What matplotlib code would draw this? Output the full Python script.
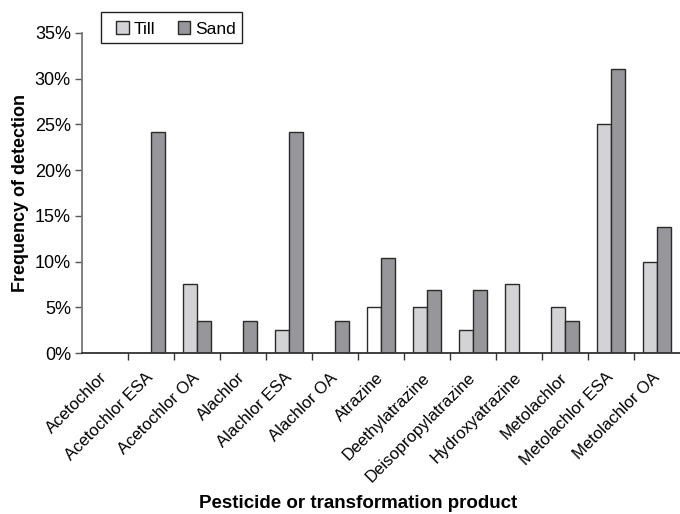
import numpy as np
import matplotlib.pyplot as plt
from matplotlib.patches import Rectangle
from matplotlib.ticker import FuncFormatter, FixedLocator

plt.rcParams['font.family'] = ['Liberation Sans', 'DejaVu Sans']

categories = ['Acetochlor', 'Acetochlor ESA', 'Acetochlor OA', 'Alachlor',
              'Alachlor ESA', 'Alachlor OA', 'Atrazine', 'Deethylatrazine',
              'Deisopropylatrazine', 'Hydroxyatrazine', 'Metolachlor',
              'Metolachlor ESA', 'Metolachlor OA']
till = [0, 0, 7.5, 0, 2.5, 0, 5.0, 5.0, 2.5, 7.5, 5.0, 25.0, 10.0]
sand = [0, 24.14, 3.45, 3.45, 24.14, 3.45, 10.34, 6.9, 6.9, 0, 3.45, 31.03, 13.79]

till_color = '#d3d3d5'
sand_color = '#97979b'
edge = '#2a2a2a'

fig = plt.figure(figsize=(6.8, 5.14), dpi=100)
ax = fig.add_axes([0.1206, 0.3132, 0.8794, 0.6226])

x = np.arange(len(categories))
w = 0.3
till_fc = [till_color] * len(categories)
till_fc[categories.index('Atrazine')] = 'white'  # drawn unfilled in the original
b1 = ax.bar(x - w / 2, till, w, color=till_fc, edgecolor=edge, linewidth=1.0, label='Till')
b2 = ax.bar(x + w / 2, sand, w, color=sand_color, edgecolor=edge, linewidth=1.0, label='Sand')

ax.set_xlim(-0.5, len(categories) - 0.5)
ax.set_ylim(0, 35)
ax.set_yticks(np.arange(0, 36, 5))
ax.yaxis.set_major_formatter(FuncFormatter(lambda v, p: f'{int(v)}%'))
ax.tick_params(axis='y', labelsize=13, length=5, width=1, color='#555555', pad=3)

ax.xaxis.set_major_locator(FixedLocator(x))
ax.set_xticklabels(categories, rotation=45, ha='right', va='center',
                   rotation_mode='anchor', fontsize=12)
ax.tick_params(axis='x', length=0, pad=16)
ax.xaxis.set_minor_locator(FixedLocator(np.arange(0.5, len(categories) - 0.5, 1)))
ax.tick_params(axis='x', which='minor', length=5, width=1, color='#333333')

for s in ['top', 'right']:
    ax.spines[s].set_visible(False)
ax.spines['left'].set_color('#777777')
ax.spines['bottom'].set_color('#333333')
ax.spines['left'].set_linewidth(1.3)
ax.spines['bottom'].set_linewidth(1.3)

ax.set_ylabel('Frequency of detection', fontsize=13, fontweight='bold', labelpad=4)
fig.text(0.527, 0.004, 'Pesticide or transformation product', fontsize=13.5,
         fontweight='bold', ha='center', va='bottom')

# legend box drawn separately so padding matches the original
fig.patches.append(Rectangle((101 / 680, 1 - 43 / 514), 141 / 680, 31 / 514,
                             transform=fig.transFigure, facecolor='white',
                             edgecolor='#222222', linewidth=1.0, zorder=5))
leg = fig.legend(handles=[b1, b2], labels=['Till', 'Sand'], loc='center left',
                 bbox_to_anchor=(116 / 680, 1 - 29 / 514), borderaxespad=0,
                 borderpad=0, ncol=2, fontsize=12.5, frameon=False,
                 handlelength=0.72, handleheight=0.72, handletextpad=0.3,
                 columnspacing=1.3)
leg.set_zorder(6)
leg.legend_handles[0].set_facecolor(till_color)

fig.savefig('out.png', dpi=100)
